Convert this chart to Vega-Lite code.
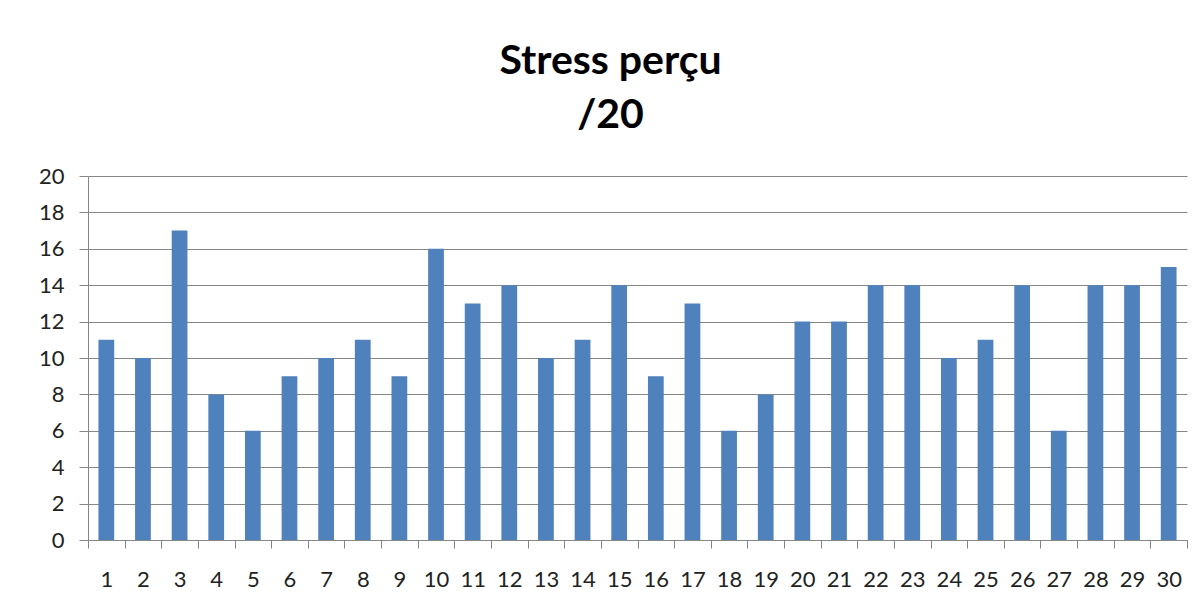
{
  "$schema": "https://vega.github.io/schema/vega-lite/v6.json",
  "width": 1099,
  "height": 364,
  "autosize": "none",
  "padding": {"left": 88, "top": 176, "right": 16, "bottom": 75},
  "background": "white",
  "title": {
    "text": ["Stress perçu", "/20"],
    "font": "Lato",
    "fontSize": 41,
    "fontWeight": "bold",
    "color": "#000000",
    "lineHeight": 54,
    "anchor": "middle",
    "dx": -27,
    "offset": 28
  },
  "data": {
    "values": [
      {"id": "1", "score": 11}, {"id": "2", "score": 10}, {"id": "3", "score": 17},
      {"id": "4", "score": 8}, {"id": "5", "score": 6}, {"id": "6", "score": 9},
      {"id": "7", "score": 10}, {"id": "8", "score": 11}, {"id": "9", "score": 9},
      {"id": "10", "score": 16}, {"id": "11", "score": 13}, {"id": "12", "score": 14},
      {"id": "13", "score": 10}, {"id": "14", "score": 11}, {"id": "15", "score": 14},
      {"id": "16", "score": 9}, {"id": "17", "score": 13}, {"id": "18", "score": 6},
      {"id": "19", "score": 8}, {"id": "20", "score": 12}, {"id": "21", "score": 12},
      {"id": "22", "score": 14}, {"id": "23", "score": 14}, {"id": "24", "score": 10},
      {"id": "25", "score": 11}, {"id": "26", "score": 14}, {"id": "27", "score": 6},
      {"id": "28", "score": 14}, {"id": "29", "score": 14}, {"id": "30", "score": 15}
    ]
  },
  "mark": {"type": "bar", "color": "#4F81BD", "width": {"band": 0.43}},
  "encoding": {
    "x": {
      "field": "id",
      "type": "ordinal",
      "sort": null,
      "scale": {"paddingInner": 0, "paddingOuter": 0},
      "axis": {
        "title": null,
        "labelAngle": 0,
        "labelFont": "Lato",
        "labelFontSize": 22,
        "labelColor": "#222222",
        "labelPadding": 21,
        "tickBand": "extent",
        "tickSize": 8,
        "tickColor": "#868686",
        "domainColor": "#868686",
        "grid": false
      }
    },
    "y": {
      "field": "score",
      "type": "quantitative",
      "scale": {"domain": [0, 20], "nice": false},
      "axis": {
        "title": null,
        "values": [0, 2, 4, 6, 8, 10, 12, 14, 16, 18, 20],
        "labelFont": "Lato",
        "labelFontSize": 22,
        "labelColor": "#222222",
        "labelPadding": 15,
        "tickSize": 9,
        "tickColor": "#868686",
        "domainColor": "#868686",
        "grid": true,
        "gridColor": "#868686",
        "gridOpacity": 1
      }
    }
  },
  "config": {"view": {"stroke": null}}
}
